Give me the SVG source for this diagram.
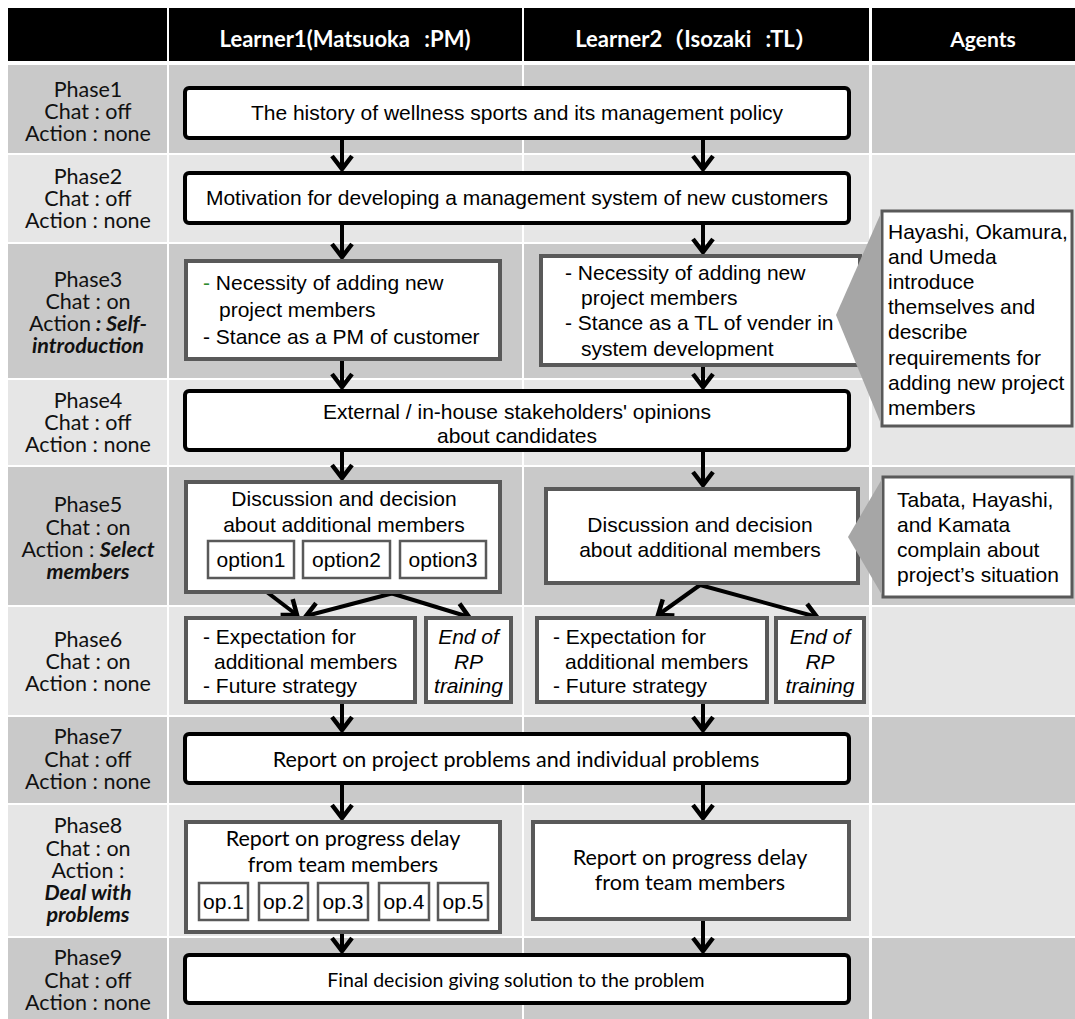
<svg xmlns="http://www.w3.org/2000/svg" width="1075" height="1019" viewBox="0 0 1075 1019">
<style>
.dk{fill:#c9c9c9}.lt{fill:#e6e6e6}.hdr{fill:#000}
.hd{font-family:Lato,"Noto Sans CJK JP",sans-serif;font-weight:bold;font-size:22px;fill:#fff;text-anchor:middle;word-spacing:9px}
.ph{font-family:Lato,"Liberation Sans",sans-serif;font-size:21.5px;fill:#111;text-anchor:middle}
.bi{font-weight:bold;font-style:italic}
.t{font-family:"Liberation Sans",Arial,sans-serif;font-size:21px;fill:#000}
.c{text-anchor:middle}
.it{font-style:italic}
.cl{font-family:Lato,"Liberation Sans",sans-serif;font-size:21.5px;fill:#000;text-anchor:middle}
.mb{fill:#fff;stroke:#000;stroke-width:4}
.db{fill:#fff;stroke:#595959;stroke-width:4}
.ob{fill:#fff;stroke:#595959;stroke-width:2.5}
.cb{fill:#fff;stroke:#595959;stroke-width:3}
.wd{fill:#a6a6a6}
.cn path{fill:none;stroke:#000;stroke-width:4;marker-end:url(#ah)}
</style>
<defs>
<marker id="ah" markerUnits="userSpaceOnUse" orient="auto" markerWidth="40" markerHeight="40" viewBox="-20 -20 40 40" refX="0" refY="0">
<path d="M-13,-10 L0,0 L-13,10" fill="none" stroke="#000" stroke-width="4.5" stroke-linejoin="miter"/>
</marker>
</defs>
<rect width="1075" height="1019" fill="#fff"/>
<g id="grid">
<rect class="hdr" x="8" y="8" width="159" height="53"/>
<rect class="hdr" x="169" y="8" width="353" height="53"/>
<rect class="hdr" x="524" y="8" width="345" height="53"/>
<rect class="hdr" x="872" y="8" width="203" height="53"/>
<rect class="dk" x="8" y="65" width="159" height="88"/>
<rect class="lt" x="8" y="155" width="159" height="87"/>
<rect class="dk" x="8" y="244" width="159" height="134"/>
<rect class="lt" x="8" y="380" width="159" height="85"/>
<rect class="dk" x="8" y="467" width="159" height="138"/>
<rect class="lt" x="8" y="607" width="159" height="108"/>
<rect class="dk" x="8" y="717" width="159" height="86"/>
<rect class="lt" x="8" y="805" width="159" height="131"/>
<rect class="dk" x="8" y="938" width="159" height="81"/>
<rect class="dk" x="169" y="65" width="353" height="88"/>
<rect class="lt" x="169" y="155" width="353" height="87"/>
<rect class="dk" x="169" y="244" width="353" height="134"/>
<rect class="lt" x="169" y="380" width="353" height="85"/>
<rect class="dk" x="169" y="467" width="353" height="138"/>
<rect class="lt" x="169" y="607" width="353" height="108"/>
<rect class="dk" x="169" y="717" width="353" height="86"/>
<rect class="lt" x="169" y="805" width="353" height="131"/>
<rect class="dk" x="169" y="938" width="353" height="81"/>
<rect class="dk" x="524" y="65" width="345" height="88"/>
<rect class="lt" x="524" y="155" width="345" height="87"/>
<rect class="dk" x="524" y="244" width="345" height="134"/>
<rect class="lt" x="524" y="380" width="345" height="85"/>
<rect class="dk" x="524" y="467" width="345" height="138"/>
<rect class="lt" x="524" y="607" width="345" height="108"/>
<rect class="dk" x="524" y="717" width="345" height="86"/>
<rect class="lt" x="524" y="805" width="345" height="131"/>
<rect class="dk" x="524" y="938" width="345" height="81"/>
<rect class="dk" x="872" y="65" width="203" height="88"/>
<rect class="lt" x="872" y="155" width="203" height="310"/>
<rect class="dk" x="872" y="467" width="203" height="138"/>
<rect class="lt" x="872" y="607" width="203" height="108"/>
<rect class="dk" x="872" y="717" width="203" height="86"/>
<rect class="lt" x="872" y="805" width="203" height="131"/>
<rect class="dk" x="872" y="938" width="203" height="81"/>
</g>
<g id="headers">
<text class="hd" x="345" y="47">Learner1(Matsuoka :PM)</text>
<text class="hd" x="696" y="47">Learner2（Isozaki :TL）</text>
<text class="hd" x="983" y="47" style="font-size:21px">Agents</text>
</g>
<g id="phases">
<text class="ph" x="88"><tspan x="88" y="97">Phase1</tspan><tspan x="88" y="119">Chat : off</tspan><tspan x="88" y="141">Action : none</tspan></text>
<text class="ph" x="88"><tspan x="88" y="184">Phase2</tspan><tspan x="88" y="206">Chat : off</tspan><tspan x="88" y="228">Action : none</tspan></text>
<text class="ph" x="88"><tspan x="88" y="287">Phase3</tspan><tspan x="88" y="309">Chat : on</tspan><tspan x="88" y="331">Action<tspan class="bi"> : Self-</tspan></tspan><tspan x="88" y="353" class="bi">introduction</tspan></text>
<text class="ph" x="88"><tspan x="88" y="408">Phase4</tspan><tspan x="88" y="430">Chat : off</tspan><tspan x="88" y="452">Action : none</tspan></text>
<text class="ph" x="88"><tspan x="88" y="512">Phase5</tspan><tspan x="88" y="535">Chat : on</tspan><tspan x="88" y="557">Action : <tspan class="bi">Select</tspan></tspan><tspan x="88" y="579" class="bi">members</tspan></text>
<text class="ph" x="88"><tspan x="88" y="647">Phase6</tspan><tspan x="88" y="669">Chat : on</tspan><tspan x="88" y="691">Action : none</tspan></text>
<text class="ph" x="88"><tspan x="88" y="744">Phase7</tspan><tspan x="88" y="767">Chat : off</tspan><tspan x="88" y="789">Action : none</tspan></text>
<text class="ph" x="88"><tspan x="88" y="833">Phase8</tspan><tspan x="88" y="856">Chat : on</tspan><tspan x="88" y="878">Action :</tspan><tspan x="88" y="900" class="bi">Deal with</tspan><tspan x="88" y="922" class="bi">problems</tspan></text>
<text class="ph" x="88"><tspan x="88" y="965">Phase9</tspan><tspan x="88" y="988">Chat : off</tspan><tspan x="88" y="1010">Action : none</tspan></text>
</g>
<g id="connectors" class="cn">
<path d="M342,139 V169"/>
<path d="M703,139 V169"/>
<path d="M342,224 V257"/>
<path d="M703,224 V252"/>
<path d="M342,360 V387"/>
<path d="M703,366 V387"/>
<path d="M342,451 V478"/>
<path d="M703,451 V485"/>
<path d="M251,580 L297,615"/>
<path d="M443,580 L306,616"/>
<path d="M348,580 L469,617"/>
<path d="M700,585 L658,615"/>
<path d="M700,585 L817,617"/>
<path d="M342,703 V730"/>
<path d="M703,703 V730"/>
<path d="M342,784 V818"/>
<path d="M703,784 V818"/>
<path d="M342,933 V951"/>
<path d="M703,920 V951"/>
</g>
<g id="n1"><rect class="mb" x="185" y="88" width="664" height="50" rx="4"/>
<text class="t c" x="517" y="120">The history of wellness sports and its management policy</text></g>
<g id="n2"><rect class="mb" x="185" y="173" width="664" height="50" rx="4"/>
<text class="t c" x="517" y="205">Motivation for developing a management system of new customers</text></g>
<g id="n3a"><rect class="db" x="186" y="261" width="314" height="98"/>
<text class="t"><tspan x="203" y="290"><tspan fill="#2e8b2e">-</tspan> Necessity of adding new</tspan><tspan x="219" y="317">project members</tspan><tspan x="203" y="344">- Stance as a PM of customer</tspan></text></g>
<g id="n3b"><rect class="db" x="541" y="256" width="319" height="109"/>
<text class="t"><tspan x="565" y="280">- Necessity of adding new</tspan><tspan x="581" y="305">project members</tspan><tspan x="565" y="330">- Stance as a TL of vender in</tspan><tspan x="581" y="356">system development</tspan></text></g>
<g id="agent1"><rect class="cb" x="882" y="211" width="190" height="215"/>
<polygon class="wd" points="881,213 836,315 881,424"/>
<text class="t"><tspan x="888" y="239">Hayashi, Okamura,</tspan><tspan x="888" y="264">and Umeda</tspan><tspan x="888" y="289">introduce</tspan><tspan x="888" y="314">themselves and</tspan><tspan x="888" y="339">describe</tspan><tspan x="888" y="365">requirements for</tspan><tspan x="888" y="390">adding new project</tspan><tspan x="888" y="415">members</tspan></text></g>
<g id="n4"><rect class="mb" x="185" y="391" width="664" height="59" rx="4"/>
<text class="t c"><tspan x="517" y="419">External / in-house stakeholders' opinions</tspan><tspan x="517" y="443">about candidates</tspan></text></g>
<g id="n5a"><rect class="db" x="186" y="482" width="314" height="110"/>
<text class="t c"><tspan x="344" y="506">Discussion and decision</tspan><tspan x="344" y="532">about additional members</tspan></text>
<g id="opt1"><rect class="ob" x="208" y="541" width="86" height="37"/><text class="t c" x="251" y="567">option1</text></g>
<g id="opt2"><rect class="ob" x="303" y="541" width="87" height="37"/><text class="t c" x="346.5" y="567">option2</text></g>
<g id="opt3"><rect class="ob" x="400" y="541" width="86" height="37"/><text class="t c" x="443" y="567">option3</text></g></g>
<g id="n5b"><rect class="db" x="546" y="489" width="312" height="94"/>
<text class="t c"><tspan x="700" y="532">Discussion and decision</tspan><tspan x="700" y="557">about additional members</tspan></text></g>
<g id="agent2"><rect class="cb" x="883" y="477" width="189" height="120"/>
<polygon class="wd" points="882,479 848,537 882,595"/>
<text class="t"><tspan x="897" y="507">Tabata, Hayashi,</tspan><tspan x="897" y="532">and Kamata</tspan><tspan x="897" y="557">complain about</tspan><tspan x="897" y="582">project’s situation</tspan></text></g>
<g id="n6a"><rect class="db" x="186" y="618" width="229" height="84"/>
<text class="t"><tspan x="203" y="644">- Expectation for</tspan><tspan x="214" y="669">additional members</tspan><tspan x="203" y="693">- Future strategy</tspan></text></g>
<g id="n6b"><rect class="db" x="426" y="618" width="85" height="84"/>
<text class="t c it"><tspan x="468.5" y="644">End of</tspan><tspan x="468.5" y="669">RP</tspan><tspan x="468.5" y="693">training</tspan></text></g>
<g id="n6c"><rect class="db" x="537" y="618" width="230" height="84"/>
<text class="t"><tspan x="553" y="644">- Expectation for</tspan><tspan x="565" y="669">additional members</tspan><tspan x="553" y="693">- Future strategy</tspan></text></g>
<g id="n6d"><rect class="db" x="776" y="618" width="88" height="84"/>
<text class="t c it"><tspan x="820" y="644">End of</tspan><tspan x="820" y="669">RP</tspan><tspan x="820" y="693">training</tspan></text></g>
<g id="n7"><rect class="mb" x="185" y="734" width="664" height="49" rx="4"/>
<text class="cl" x="516" y="767">Report on project problems and individual problems</text></g>
<g id="n8a"><rect class="db" x="186" y="822" width="314" height="110"/>
<text class="cl"><tspan x="343" y="846">Report on progress delay</tspan><tspan x="343" y="872">from team members</tspan></text>
<g id="op1"><rect class="ob" x="199" y="883" width="49" height="37"/><text class="t c" x="223.5" y="909">op.1</text></g>
<g id="op2"><rect class="ob" x="259" y="883" width="49" height="37"/><text class="t c" x="283.5" y="909">op.2</text></g>
<g id="op3"><rect class="ob" x="318" y="883" width="50" height="37"/><text class="t c" x="343" y="909">op.3</text></g>
<g id="op4"><rect class="ob" x="379" y="883" width="50" height="37"/><text class="t c" x="404" y="909">op.4</text></g>
<g id="op5"><rect class="ob" x="438" y="883" width="50" height="37"/><text class="t c" x="463" y="909">op.5</text></g></g>
<g id="n8b"><rect class="db" x="533" y="822" width="316" height="97"/>
<text class="cl"><tspan x="690" y="865">Report on progress delay</tspan><tspan x="690" y="890">from team members</tspan></text></g>
<g id="n9"><rect class="mb" x="185" y="955" width="664" height="48" rx="4"/>
<text class="cl" style="font-size:19.5px" x="516" y="987">Final decision giving solution to the problem</text></g>
</svg>
